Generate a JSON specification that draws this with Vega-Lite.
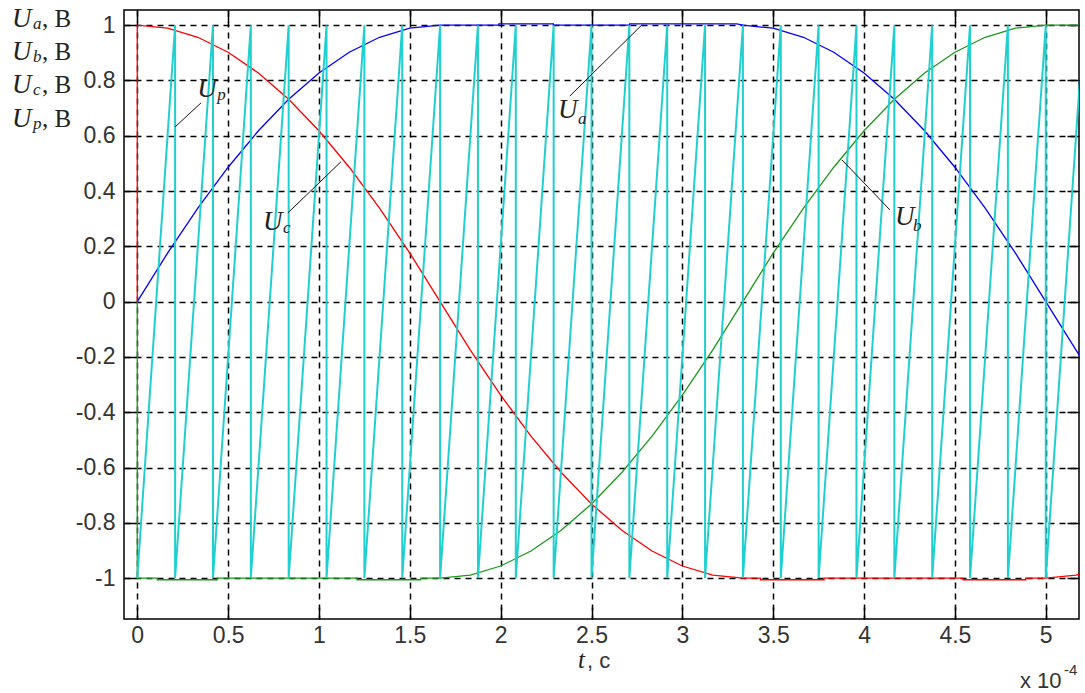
{
  "$schema": "https://vega.github.io/schema/vega-lite/v6.json",
  "autosize": {"type": "none"},
  "width": 955,
  "height": 609,
  "padding": {"left": 124, "top": 10, "right": 6, "bottom": 74},
  "background": "#ffffff",
  "config": {
    "view": {"stroke": "#000000", "strokeWidth": 1.5},
    "axis": {
      "domain": false,
      "title": null,
      "tickColor": "#000000",
      "tickWidth": 1.5,
      "tickSize": -12,
      "labelFont": "Liberation Sans",
      "labelFontSize": 23,
      "labelColor": "#333333",
      "labelFlush": false,
      "labelOverlap": false,
      "labelBound": false,
      "gridColor": "#000000",
      "gridDash": [6, 5],
      "gridWidth": 1.5,
      "gridOpacity": 1
    }
  },
  "datasets": {
    "curves": [
      {"t": 0, "v": 0, "s": "Ua"},
      {"t": 0.1667, "v": 0.1756, "s": "Ua"},
      {"t": 0.3333, "v": 0.3383, "s": "Ua"},
      {"t": 0.5, "v": 0.4863, "s": "Ua"},
      {"t": 0.6667, "v": 0.618, "s": "Ua"},
      {"t": 0.8333, "v": 0.7321, "s": "Ua"},
      {"t": 1, "v": 0.8271, "s": "Ua"},
      {"t": 1.1667, "v": 0.9021, "s": "Ua"},
      {"t": 1.3333, "v": 0.9563, "s": "Ua"},
      {"t": 1.5, "v": 0.9891, "s": "Ua"},
      {"t": 1.6667, "v": 1, "s": "Ua"},
      {"t": 1.99, "v": 1, "s": "Ua"},
      {"t": 1.99, "v": 1.005, "s": "Ua"},
      {"t": 2.29, "v": 1.005, "s": "Ua"},
      {"t": 2.29, "v": 1, "s": "Ua"},
      {"t": 2.71, "v": 1, "s": "Ua"},
      {"t": 2.71, "v": 1.005, "s": "Ua"},
      {"t": 3.3, "v": 1.005, "s": "Ua"},
      {"t": 3.3333, "v": 1, "s": "Ua"},
      {"t": 3.5, "v": 0.9891, "s": "Ua"},
      {"t": 3.6667, "v": 0.9563, "s": "Ua"},
      {"t": 3.8333, "v": 0.9021, "s": "Ua"},
      {"t": 4, "v": 0.8271, "s": "Ua"},
      {"t": 4.1667, "v": 0.7321, "s": "Ua"},
      {"t": 4.3333, "v": 0.618, "s": "Ua"},
      {"t": 4.5, "v": 0.4863, "s": "Ua"},
      {"t": 4.6667, "v": 0.3383, "s": "Ua"},
      {"t": 4.8333, "v": 0.1756, "s": "Ua"},
      {"t": 5, "v": 0, "s": "Ua"},
      {"t": 5.1667, "v": -0.1756, "s": "Ua"},
      {"t": 5.2, "v": -0.2092, "s": "Ua"},

      {"t": 0, "v": 0, "s": "Ub"},
      {"t": 0, "v": -1, "s": "Ub"},
      {"t": 0.11, "v": -1, "s": "Ub"},
      {"t": 0.11, "v": -1.006, "s": "Ub"},
      {"t": 0.44, "v": -1.006, "s": "Ub"},
      {"t": 0.44, "v": -1, "s": "Ub"},
      {"t": 1.21, "v": -1, "s": "Ub"},
      {"t": 1.21, "v": -1.006, "s": "Ub"},
      {"t": 1.56, "v": -1.006, "s": "Ub"},
      {"t": 1.56, "v": -1, "s": "Ub"},
      {"t": 1.6667, "v": -1, "s": "Ub"},
      {"t": 1.8333, "v": -0.9891, "s": "Ub"},
      {"t": 2, "v": -0.9563, "s": "Ub"},
      {"t": 2.1667, "v": -0.9021, "s": "Ub"},
      {"t": 2.3333, "v": -0.8271, "s": "Ub"},
      {"t": 2.5, "v": -0.7321, "s": "Ub"},
      {"t": 2.6667, "v": -0.618, "s": "Ub"},
      {"t": 2.8333, "v": -0.4863, "s": "Ub"},
      {"t": 3, "v": -0.3383, "s": "Ub"},
      {"t": 3.1667, "v": -0.1756, "s": "Ub"},
      {"t": 3.3333, "v": 0, "s": "Ub"},
      {"t": 3.5, "v": 0.1756, "s": "Ub"},
      {"t": 3.6667, "v": 0.3383, "s": "Ub"},
      {"t": 3.8333, "v": 0.4863, "s": "Ub"},
      {"t": 4, "v": 0.618, "s": "Ub"},
      {"t": 4.1667, "v": 0.7321, "s": "Ub"},
      {"t": 4.3333, "v": 0.8271, "s": "Ub"},
      {"t": 4.5, "v": 0.9021, "s": "Ub"},
      {"t": 4.6667, "v": 0.9563, "s": "Ub"},
      {"t": 4.8333, "v": 0.9891, "s": "Ub"},
      {"t": 5, "v": 1, "s": "Ub"},
      {"t": 5.2, "v": 1, "s": "Ub"},

      {"t": 0, "v": 0, "s": "Uc"},
      {"t": 0, "v": 1, "s": "Uc"},
      {"t": 0.1667, "v": 0.9891, "s": "Uc"},
      {"t": 0.3333, "v": 0.9563, "s": "Uc"},
      {"t": 0.5, "v": 0.9021, "s": "Uc"},
      {"t": 0.6667, "v": 0.8271, "s": "Uc"},
      {"t": 0.8333, "v": 0.7321, "s": "Uc"},
      {"t": 1, "v": 0.618, "s": "Uc"},
      {"t": 1.1667, "v": 0.4863, "s": "Uc"},
      {"t": 1.3333, "v": 0.3383, "s": "Uc"},
      {"t": 1.5, "v": 0.1756, "s": "Uc"},
      {"t": 1.6667, "v": 0, "s": "Uc"},
      {"t": 1.8333, "v": -0.1756, "s": "Uc"},
      {"t": 2, "v": -0.3383, "s": "Uc"},
      {"t": 2.1667, "v": -0.4863, "s": "Uc"},
      {"t": 2.3333, "v": -0.618, "s": "Uc"},
      {"t": 2.5, "v": -0.7321, "s": "Uc"},
      {"t": 2.6667, "v": -0.8271, "s": "Uc"},
      {"t": 2.8333, "v": -0.9021, "s": "Uc"},
      {"t": 3, "v": -0.9563, "s": "Uc"},
      {"t": 3.1667, "v": -0.9891, "s": "Uc"},
      {"t": 3.3333, "v": -1, "s": "Uc"},
      {"t": 3.43, "v": -1, "s": "Uc"},
      {"t": 3.43, "v": -1.006, "s": "Uc"},
      {"t": 3.78, "v": -1.006, "s": "Uc"},
      {"t": 3.78, "v": -1, "s": "Uc"},
      {"t": 4.545, "v": -1, "s": "Uc"},
      {"t": 4.545, "v": -1.006, "s": "Uc"},
      {"t": 4.89, "v": -1.006, "s": "Uc"},
      {"t": 4.89, "v": -1, "s": "Uc"},
      {"t": 5, "v": -1, "s": "Uc"},
      {"t": 5.1667, "v": -0.9891, "s": "Uc"},
      {"t": 5.2, "v": -0.9843, "s": "Uc"}
    ],
    "saw": [
      {"t": 0, "v": -1}, {"t": 0.2083, "v": 1}, {"t": 0.2083, "v": -1},
      {"t": 0.4167, "v": 1}, {"t": 0.4167, "v": -1},
      {"t": 0.625, "v": 1}, {"t": 0.625, "v": -1},
      {"t": 0.8333, "v": 1}, {"t": 0.8333, "v": -1},
      {"t": 1.0417, "v": 1}, {"t": 1.0417, "v": -1},
      {"t": 1.25, "v": 1}, {"t": 1.25, "v": -1},
      {"t": 1.4583, "v": 1}, {"t": 1.4583, "v": -1},
      {"t": 1.6667, "v": 1}, {"t": 1.6667, "v": -1},
      {"t": 1.875, "v": 1}, {"t": 1.875, "v": -1},
      {"t": 2.0833, "v": 1}, {"t": 2.0833, "v": -1},
      {"t": 2.2917, "v": 1}, {"t": 2.2917, "v": -1},
      {"t": 2.5, "v": 1}, {"t": 2.5, "v": -1},
      {"t": 2.7083, "v": 1}, {"t": 2.7083, "v": -1},
      {"t": 2.9167, "v": 1}, {"t": 2.9167, "v": -1},
      {"t": 3.125, "v": 1}, {"t": 3.125, "v": -1},
      {"t": 3.3333, "v": 1}, {"t": 3.3333, "v": -1},
      {"t": 3.5417, "v": 1}, {"t": 3.5417, "v": -1},
      {"t": 3.75, "v": 1}, {"t": 3.75, "v": -1},
      {"t": 3.9583, "v": 1}, {"t": 3.9583, "v": -1},
      {"t": 4.1667, "v": 1}, {"t": 4.1667, "v": -1},
      {"t": 4.375, "v": 1}, {"t": 4.375, "v": -1},
      {"t": 4.5833, "v": 1}, {"t": 4.5833, "v": -1},
      {"t": 4.7917, "v": 1}, {"t": 4.7917, "v": -1},
      {"t": 5, "v": 1}, {"t": 5, "v": -1},
      {"t": 5.2083, "v": 1}
    ],
    "leaders": [
      {"t": 0.208, "v": 0.632, "t2": 0.351, "v2": 0.719},
      {"t": 2.381, "v": 0.744, "t2": 2.777, "v2": 1.001},
      {"t": 0.829, "v": 0.321, "t2": 1.121, "v2": 0.506},
      {"t": 3.878, "v": 0.513, "t2": 4.142, "v2": 0.332}
    ],
    "notes": [
      {"t": -0.69, "v": 0.994, "txt": "U", "kind": "U"},
      {"t": -0.574, "v": 0.987, "txt": "a", "kind": "sub"},
      {"t": -0.524, "v": 0.994, "txt": ", В", "kind": "unit"},
      {"t": -0.69, "v": 0.874, "txt": "U", "kind": "U"},
      {"t": -0.574, "v": 0.867, "txt": "b", "kind": "sub"},
      {"t": -0.524, "v": 0.874, "txt": ", В", "kind": "unit"},
      {"t": -0.69, "v": 0.755, "txt": "U", "kind": "U"},
      {"t": -0.574, "v": 0.748, "txt": "c", "kind": "sub"},
      {"t": -0.524, "v": 0.755, "txt": ", В", "kind": "unit"},
      {"t": -0.69, "v": 0.632, "txt": "U", "kind": "U"},
      {"t": -0.574, "v": 0.625, "txt": "p", "kind": "sub"},
      {"t": -0.524, "v": 0.632, "txt": ", В", "kind": "unit"},
      {"t": 0.33, "v": 0.74, "txt": "U", "kind": "U"},
      {"t": 0.44, "v": 0.73, "txt": "p", "kind": "sub"},
      {"t": 2.315, "v": 0.665, "txt": "U", "kind": "U"},
      {"t": 2.425, "v": 0.643, "txt": "a", "kind": "sub"},
      {"t": 0.692, "v": 0.26, "txt": "U", "kind": "U"},
      {"t": 0.802, "v": 0.249, "txt": "c", "kind": "sub"},
      {"t": 4.17, "v": 0.278, "txt": "U", "kind": "U"},
      {"t": 4.27, "v": 0.256, "txt": "b", "kind": "sub"},
      {"t": 2.425, "v": -1.324, "txt": "t", "kind": "tvar"},
      {"t": 2.475, "v": -1.324, "txt": ", с", "kind": "tunit"},
      {"t": 4.858, "v": -1.397, "txt": "x 10", "kind": "exp"},
      {"t": 5.1, "v": -1.349, "txt": "-4", "kind": "sup"}
    ]
  },
  "resolve": {"axis": {"x": "independent", "y": "independent"}},
  "layer": [
    {
      "data": {"name": "curves"},
      "mark": {"type": "line", "clip": true, "strokeWidth": 1.3},
      "encoding": {
        "x": {
          "field": "t", "type": "quantitative",
          "scale": {"domain": [-0.073, 5.183], "nice": false, "zero": false},
          "axis": {
            "orient": "bottom",
            "values": [0, 0.5, 1, 1.5, 2, 2.5, 3, 3.5, 4, 4.5, 5],
            "labelExpr": "format(datum.value, '~g')",
            "grid": true,
            "labelPadding": 17
          }
        },
        "y": {
          "field": "v", "type": "quantitative",
          "scale": {"domain": [-1.148, 1.055], "nice": false, "zero": false},
          "axis": {
            "orient": "left",
            "values": [-1, -0.8, -0.6, -0.4, -0.2, 0, 0.2, 0.4, 0.6, 0.8, 1],
            "labelExpr": "datum.value < 0 ? '-' + format(-datum.value, '~g') : format(datum.value, '~g')",
            "grid": true,
            "labelPadding": 21
          }
        },
        "color": {
          "field": "s", "type": "nominal",
          "scale": {"domain": ["Ua", "Ub", "Uc"], "range": ["#0000ff", "#1a9a1a", "#ff0000"]},
          "legend": null
        },
        "order": {"value": null}
      }
    },
    {
      "data": {"name": "saw"},
      "mark": {"type": "line", "clip": true, "strokeWidth": 2, "color": "#20cfcf"},
      "encoding": {
        "x": {
          "field": "t", "type": "quantitative",
          "scale": {"domain": [-0.073, 5.183], "nice": false, "zero": false},
          "axis": {
            "orient": "top",
            "values": [0, 0.5, 1, 1.5, 2, 2.5, 3, 3.5, 4, 4.5, 5],
            "labels": false,
            "grid": false
          }
        },
        "y": {
          "field": "v", "type": "quantitative",
          "scale": {"domain": [-1.148, 1.055], "nice": false, "zero": false},
          "axis": {
            "orient": "right",
            "values": [-1, -0.8, -0.6, -0.4, -0.2, 0, 0.2, 0.4, 0.6, 0.8, 1],
            "labels": false,
            "grid": false
          }
        },
        "order": {"value": null}
      }
    },
    {
      "data": {"name": "leaders"},
      "mark": {"type": "rule", "color": "#111111", "strokeWidth": 1},
      "encoding": {
        "x": {"field": "t", "type": "quantitative", "axis": null,
              "scale": {"domain": [-0.073, 5.183], "nice": false, "zero": false}},
        "x2": {"field": "t2"},
        "y": {"field": "v", "type": "quantitative", "axis": null,
              "scale": {"domain": [-1.148, 1.055], "nice": false, "zero": false}},
        "y2": {"field": "v2"}
      }
    },
    {
      "data": {"name": "notes"},
      "transform": [{"filter": "datum.kind === 'U'"}],
      "mark": {"type": "text", "clip": false, "align": "left", "baseline": "alphabetic",
               "font": "Liberation Serif", "fontStyle": "italic", "fontSize": 27, "color": "#222222"},
      "encoding": {
        "x": {"field": "t", "type": "quantitative", "axis": null,
              "scale": {"domain": [-0.073, 5.183], "nice": false, "zero": false}},
        "y": {"field": "v", "type": "quantitative", "axis": null,
              "scale": {"domain": [-1.148, 1.055], "nice": false, "zero": false}},
        "text": {"field": "txt"}
      }
    },
    {
      "data": {"name": "notes"},
      "transform": [{"filter": "datum.kind === 'sub'"}],
      "mark": {"type": "text", "clip": false, "align": "left", "baseline": "alphabetic",
               "font": "Liberation Serif", "fontStyle": "italic", "fontSize": 17, "color": "#222222"},
      "encoding": {
        "x": {"field": "t", "type": "quantitative", "axis": null,
              "scale": {"domain": [-0.073, 5.183], "nice": false, "zero": false}},
        "y": {"field": "v", "type": "quantitative", "axis": null,
              "scale": {"domain": [-1.148, 1.055], "nice": false, "zero": false}},
        "text": {"field": "txt"}
      }
    },
    {
      "data": {"name": "notes"},
      "transform": [{"filter": "datum.kind === 'unit'"}],
      "mark": {"type": "text", "clip": false, "align": "left", "baseline": "alphabetic",
               "font": "Liberation Serif", "fontSize": 25, "color": "#222222"},
      "encoding": {
        "x": {"field": "t", "type": "quantitative", "axis": null,
              "scale": {"domain": [-0.073, 5.183], "nice": false, "zero": false}},
        "y": {"field": "v", "type": "quantitative", "axis": null,
              "scale": {"domain": [-1.148, 1.055], "nice": false, "zero": false}},
        "text": {"field": "txt"}
      }
    },
    {
      "data": {"name": "notes"},
      "transform": [{"filter": "datum.kind === 'tvar'"}],
      "mark": {"type": "text", "clip": false, "align": "left", "baseline": "alphabetic",
               "font": "Liberation Serif", "fontStyle": "italic", "fontSize": 25, "color": "#222222"},
      "encoding": {
        "x": {"field": "t", "type": "quantitative", "axis": null,
              "scale": {"domain": [-0.073, 5.183], "nice": false, "zero": false}},
        "y": {"field": "v", "type": "quantitative", "axis": null,
              "scale": {"domain": [-1.148, 1.055], "nice": false, "zero": false}},
        "text": {"field": "txt"}
      }
    },
    {
      "data": {"name": "notes"},
      "transform": [{"filter": "datum.kind === 'tunit' || datum.kind === 'exp'"}],
      "mark": {"type": "text", "clip": false, "align": "left", "baseline": "alphabetic",
               "font": "Liberation Sans", "fontSize": 22, "color": "#333333"},
      "encoding": {
        "x": {"field": "t", "type": "quantitative", "axis": null,
              "scale": {"domain": [-0.073, 5.183], "nice": false, "zero": false}},
        "y": {"field": "v", "type": "quantitative", "axis": null,
              "scale": {"domain": [-1.148, 1.055], "nice": false, "zero": false}},
        "text": {"field": "txt"}
      }
    },
    {
      "data": {"name": "notes"},
      "transform": [{"filter": "datum.kind === 'sup'"}],
      "mark": {"type": "text", "clip": false, "align": "left", "baseline": "alphabetic",
               "font": "Liberation Sans", "fontSize": 15, "color": "#333333"},
      "encoding": {
        "x": {"field": "t", "type": "quantitative", "axis": null,
              "scale": {"domain": [-0.073, 5.183], "nice": false, "zero": false}},
        "y": {"field": "v", "type": "quantitative", "axis": null,
              "scale": {"domain": [-1.148, 1.055], "nice": false, "zero": false}},
        "text": {"field": "txt"}
      }
    }
  ]
}
